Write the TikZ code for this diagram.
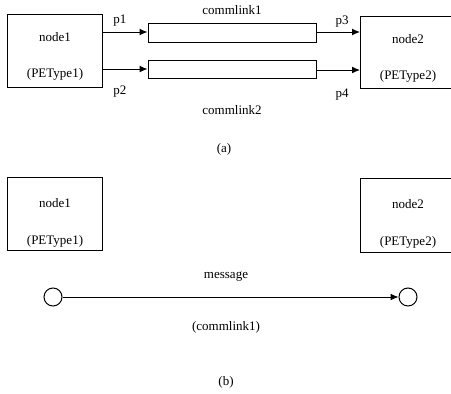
\documentclass[tikz,border=0pt]{standalone}
\usepackage{fontspec}
\setmainfont{Liberation Serif}
\usetikzlibrary{arrows.meta}
\begin{document}
\begin{tikzpicture}[x=1pt,y=-1pt,
  every node/.style={font=\fontsize{13}{15}\selectfont, inner sep=0pt},
  pebox/.style={draw, line width=1pt},
  linkbox/.style={draw, line width=1pt},
  port/.style={line width=1pt, -{Latex[length=8pt,width=7pt]}},
  endpt/.style={draw, circle, line width=1pt, minimum size=18pt}]
\useasboundingbox (0,0) rectangle (451,394);

% (a) processing elements joined by two communication links
\draw[pebox] (7,14) rectangle (102,87);
\node (n1a) at (55,37) {node1};
\node (t1a) at (55,74) {(PEType1)};
\coordinate (n1p1) at (102,32);
\coordinate (n1p2) at (102,69);

\draw[pebox] (360,16) rectangle (456,88);
\node (n2a) at (408,39) {node2};
\node (t2a) at (408,76) {(PEType2)};
\coordinate (n2p3) at (360,32);
\coordinate (n2p4) at (360,70);

\node[linkbox, minimum width=168pt, minimum height=19pt] (cl1) at (232,32.5) {};
\node[linkbox, minimum width=168pt, minimum height=18pt] (cl2) at (232,69.5) {};
\node (lab1) at (232,10) {commlink1};
\node (lab2) at (232,110) {commlink2};

\draw[port] (n1p1) -- (n1p1 -| cl1.west);
\draw[port] (n1p2) -- (n1p2 -| cl2.west);
\draw[port] (n2p3 -| cl1.east) -- (n2p3);
\draw[port] (n2p4 -| cl2.east) -- (n2p4);

\node (p1) at (120,21) {p1};
\node (p2) at (120,92) {p2};
\node (p3) at (342,22) {p3};
\node (p4) at (342,95) {p4};

\node (capa) at (224,149) {(a)};

% (b) the same link seen as a message between two end points
\draw[pebox] (7,177) rectangle (102,250);
\node (n1b) at (55,203) {node1};
\node (t1b) at (55,241) {(PEType1)};

\draw[pebox] (360,178) rectangle (456,252);
\node (n2b) at (408,204) {node2};
\node (t2b) at (408,242) {(PEType2)};

\node[endpt] (src) at (53,297) {};
\node[endpt] (dst) at (408,297) {};
\draw[port] (src) -- (dst);
\node (msg) at (226,277) {message};
\node (via) at (226,327) {(commlink1)};

\node (capb) at (226,382) {(b)};
\end{tikzpicture}
\end{document}
